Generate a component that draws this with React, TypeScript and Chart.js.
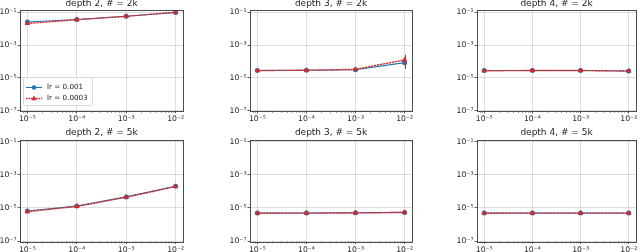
import React, { useEffect, useRef } from "react";
import { Chart, registerables } from "chart.js";
Chart.register(...registerables);

// ---------- data ----------
const lrValues = [1e-5, 1e-4, 1e-3, 1e-2];
const xTickLabels = ["10⁻⁵", "10⁻⁴", "10⁻³", "10⁻²"];
const yTickValues = [1e-7, 1e-5, 1e-3, 1e-1];
const yTickLabels = ["10⁻⁷", "10⁻⁵", "10⁻³", "10⁻¹"];
const seriesNames = ["lr = 0.001", "lr = 0.0003"];
const panelTitles = [
  "depth 2, # = 2k", "depth 3, # = 2k", "depth 4, # = 2k",
  "depth 2, # = 5k", "depth 3, # = 5k", "depth 4, # = 5k",
];

const d2k2Blue = [0.026, 0.037, 0.059, 0.1];
const d2k2Red = [0.021, 0.036, 0.058, 0.103];
const d3k2Blue = [2.8e-5, 2.9e-5, 3.1e-5, 8.5e-5];
const d3k2Red = [2.8e-5, 2.9e-5, 3.3e-5, 1.25e-4];
const d4k2Blue = [2.8e-5, 2.8e-5, 2.8e-5, 2.6e-5];
const d4k2Red = [2.7e-5, 2.8e-5, 2.8e-5, 2.6e-5];
const d2k5Blue = [6.6e-6, 1.3e-5, 4.7e-5, 2.1e-4];
const d2k5Red = [6.0e-6, 1.25e-5, 4.5e-5, 2.0e-4];
const d3k5Blue = [5.0e-6, 5.0e-6, 5.1e-6, 5.4e-6];
const d3k5Red = [4.8e-6, 4.9e-6, 5.0e-6, 5.4e-6];
const d4k5Blue = [5.0e-6, 5.0e-6, 5.0e-6, 5.0e-6];
const d4k5Red = [4.8e-6, 4.9e-6, 4.9e-6, 4.9e-6];

// error bars (lower / upper), null = too small to see
const d3k2BlueErrLow = [null, null, null, 3.5e-5];
const d3k2BlueErrHigh = [null, null, null, 1.4e-4];
const d3k2RedErrLow = [null, null, null, 5.0e-5];
const d3k2RedErrHigh = [null, null, null, 2.6e-4];

const BLUE = "#1f77b4";
const RED = "#d62728";
const FONT = "'DejaVu Sans', sans-serif";

const panels = [
  { title: panelTitles[0], blue: d2k2Blue, red: d2k2Red, legend: true },
  { title: panelTitles[1], blue: d3k2Blue, red: d3k2Red, blueErr: [d3k2BlueErrLow, d3k2BlueErrHigh], redErr: [d3k2RedErrLow, d3k2RedErrHigh] },
  { title: panelTitles[2], blue: d4k2Blue, red: d4k2Red },
  { title: panelTitles[3], blue: d2k5Blue, red: d2k5Red },
  { title: panelTitles[4], blue: d3k5Blue, red: d3k5Red },
  { title: panelTitles[5], blue: d4k5Blue, red: d4k5Red },
];

// layout (canvas boxes)
const cols = [
  { x: 0, w: 215, padL: 0, padR: 32 },
  { x: 215, w: 230, padL: 15, padR: 33 },
  { x: 445, w: 195, padL: 12, padR: 0 },
];
const rows = [
  { y: 0, h: 126, padT: 10, axisH: 15 },
  { y: 126, h: 126, padT: 13.5, axisH: 10.5 },
];

const decoPlugin = {
  id: "deco",
  afterDatasetsDraw(chart: any) {
    const ctx = chart.ctx;
    const xs = chart.scales.x;
    const ys = chart.scales.y;
    ctx.save();
    ctx.lineWidth = 1;
    chart.data.datasets.forEach((ds: any) => {
      if (!ds.errLow) return;
      ctx.strokeStyle = ds.borderColor;
      ds.data.forEach((p: any, i: number) => {
        const lo = ds.errLow[i];
        const hi = ds.errHigh[i];
        if (lo == null || hi == null) return;
        const px = Math.round(xs.getPixelForValue(p.x)) + 0.5;
        ctx.beginPath();
        ctx.moveTo(px, ys.getPixelForValue(lo));
        ctx.lineTo(px, ys.getPixelForValue(hi));
        ctx.stroke();
      });
    });
    ctx.restore();
  },
  afterDraw(chart: any) {
    const ctx = chart.ctx;
    const a = chart.chartArea;
    const xs = chart.scales.x;
    const opts = chart.options.plugins.deco;
    ctx.save();
    // frame
    ctx.strokeStyle = "#3a3a3a";
    ctx.lineWidth = 0.9;
    ctx.strokeRect(Math.round(a.left) + 0.5, Math.round(a.top) + 0.5, Math.round(a.right - a.left), Math.round(a.bottom - a.top));
    // minor ticks on x
    ctx.strokeStyle = "#555";
    ctx.lineWidth = 0.7;
    for (let d = -6; d <= -2; d++) {
      for (let s = 2; s <= 9; s++) {
        const v = s * Math.pow(10, d);
        const px = xs.getPixelForValue(v);
        if (px < a.left || px > a.right) continue;
        ctx.beginPath();
        ctx.moveTo(Math.round(px) + 0.5, a.bottom);
        ctx.lineTo(Math.round(px) + 0.5, a.bottom + 1.8);
        ctx.stroke();
      }
    }
    // title
    ctx.fillStyle = "#222";
    ctx.font = `9px ${FONT}`;
    ctx.textAlign = "center";
    ctx.textBaseline = "alphabetic";
    ctx.fillText(opts.title, (a.left + a.right) / 2, a.top - 4.5);
    // legend
    if (opts.legend) {
      const lx = a.left + 3;
      const ly = a.bottom - 34;
      const lw = 69;
      const lh = 28;
      ctx.fillStyle = "rgba(255,255,255,0.85)";
      ctx.strokeStyle = "#d0d0d0";
      ctx.lineWidth = 0.8;
      ctx.beginPath();
      (ctx as any).roundRect(lx + 0.5, ly + 0.5, lw, lh, 2);
      ctx.fill();
      ctx.stroke();
      const dsets = chart.data.datasets;
      dsets.forEach((ds: any, i: number) => {
        const yy = ly + 10.5 + i * 11;
        ctx.strokeStyle = ds.borderColor;
        ctx.lineWidth = ds.borderWidth;
        ctx.setLineDash(ds.legendDash || []);
        ctx.beginPath();
        ctx.moveTo(lx + 3, yy);
        ctx.lineTo(lx + 19, yy);
        ctx.stroke();
        ctx.setLineDash([]);
        ctx.fillStyle = ds.backgroundColor;
        ctx.beginPath();
        const cx = lx + 11;
        if (ds.pointStyle === "triangle") {
          const r = 3;
          ctx.moveTo(cx, yy - r);
          ctx.lineTo(cx + r * 0.9, yy + r * 0.6);
          ctx.lineTo(cx - r * 0.9, yy + r * 0.6);
          ctx.closePath();
        } else {
          ctx.arc(cx, yy, 2.3, 0, Math.PI * 2);
        }
        ctx.fill();
        ctx.fillStyle = "#222";
        ctx.font = `7.2px ${FONT}`;
        ctx.textAlign = "left";
        ctx.textBaseline = "middle";
        ctx.fillText(ds.label, lx + 24, yy);
      });
    }
    ctx.restore();
  },
};

function Panel({ idx }: { idx: number }) {
  const ref = useRef<HTMLCanvasElement>(null);
  const col = cols[idx % 3];
  const row = rows[Math.floor(idx / 3)];
  const p: any = panels[idx];
  useEffect(() => {
    const mk = (vals: number[]) => lrValues.map((x, i) => ({ x, y: vals[i] }));
    const chart = new Chart(ref.current!, {
      type: "line",
      data: {
        datasets: [
          {
            label: seriesNames[0],
            data: mk(p.blue),
            borderColor: BLUE,
            backgroundColor: BLUE,
            borderWidth: 1.1,
            pointStyle: "circle",
            pointRadius: 2.5,
            pointBorderWidth: 0,
            order: 1,
            errLow: p.blueErr ? p.blueErr[0] : null,
            errHigh: p.blueErr ? p.blueErr[1] : null,
          } as any,
          {
            label: seriesNames[1],
            data: mk(p.red),
            borderColor: RED,
            backgroundColor: RED,
            borderWidth: 1.4,
            borderDash: [2.2, 0.8],
            legendDash: [1.5, 1],
            pointStyle: "triangle",
            pointRadius: 3.1,
            pointBorderWidth: 0,
            order: 0,
            errLow: p.redErr ? p.redErr[0] : null,
            errHigh: p.redErr ? p.redErr[1] : null,
          } as any,
        ],
      },
      options: {
        animation: false,
        responsive: false,
        devicePixelRatio: 1,
        layout: { padding: { left: col.padL, right: col.padR, top: row.padT, bottom: 0 } },
        plugins: {
          legend: { display: false },
          tooltip: { enabled: false },
          deco: { title: p.title, legend: !!p.legend },
        } as any,
        scales: {
          x: {
            type: "logarithmic",
            min: Math.pow(10, -5.15),
            max: Math.pow(10, -1.85),
            bounds: "data",
            afterBuildTicks: (s: any) => { s.ticks = lrValues.map((v) => ({ value: v })); },
            afterFit: (s: any) => { s.height = row.axisH; s.paddingLeft = 0; s.paddingRight = 0; },
            ticks: {
              autoSkip: false,
              maxRotation: 0,
              padding: 1,
              color: "#262626",
              font: { family: FONT, size: 7.7 },
              callback: (_v: any, i: number) => xTickLabels[i],
            },
            grid: { color: "rgba(176,176,176,0.55)", lineWidth: 0.8, tickLength: 2.5, tickColor: "#3a3a3a" },
            border: { display: false },
          } as any,
          y: {
            type: "logarithmic",
            min: Math.pow(10, -7.03),
            max: Math.pow(10, -0.85),
            bounds: "data",
            afterBuildTicks: (s: any) => { s.ticks = yTickValues.map((v) => ({ value: v })); },
            afterFit: (s: any) => { s.width = 20; s.paddingTop = 0; s.paddingBottom = 0; },
            ticks: {
              autoSkip: false,
              padding: 1,
              color: "#262626",
              font: { family: FONT, size: 7.7 },
              callback: (_v: any, i: number) => yTickLabels[i],
            },
            grid: { color: "rgba(176,176,176,0.55)", lineWidth: 0.8, tickLength: 2.5, tickColor: "#3a3a3a" },
            border: { display: false },
          } as any,
        },
      },
      plugins: [decoPlugin],
    });
    return () => chart.destroy();
  }, []);
  return (
    <canvas
      ref={ref}
      width={col.w}
      height={row.h}
      style={{ position: "absolute", left: col.x, top: row.y, width: col.w, height: row.h }}
    />
  );
}

export default function App() {
  return (
    <div style={{ position: "fixed", left: 0, top: 0, width: 640, height: 252, overflow: "hidden", background: "#fff" }}>
      {panels.map((_, i) => (
        <Panel key={i} idx={i} />
      ))}
    </div>
  );
}
